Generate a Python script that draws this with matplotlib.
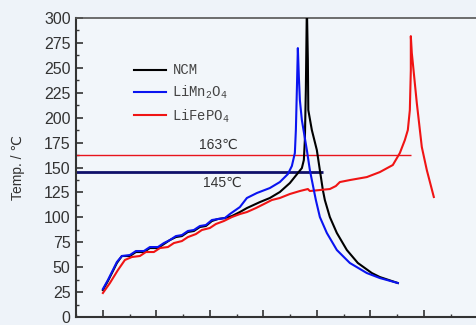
import matplotlib.pyplot as plt
import matplotlib.ticker as ticker

# Thermal runaway curves for three cathode chemistries.
# x is time (arbitrary minutes, major tick every 20), y is temperature in degC.

ncm_x = [0, 1.87, 3.36, 5.23, 7.10, 10.09, 12.34, 15.33, 17.57, 20.56, 22.80, 25.04,
         27.29, 29.53, 31.77, 34.02, 36.26, 38.50, 40.74, 42.99, 45.60, 48.22, 51.21,
         53.83, 58.69, 62.42, 66.16, 69.90, 72.89, 74.39, 75.13, 75.51, 75.88, 76.26,
         76.63, 76.80, 78.12, 79.99, 82.24, 82.98, 84.85, 87.47, 91.21, 95.32, 100.55,
         103.54, 110.27]
ncm_y = [27.1, 36.1, 44.1, 54.2, 61.2, 61.2, 65.2, 65.2, 69.2, 69.2, 73.2, 77.2,
         80.2, 81.2, 85.3, 86.3, 90.3, 91.3, 96.3, 98.3, 99.3, 101.3, 105.3,
         109.3, 115.3, 119.4, 125.4, 134.4, 144.4, 149.4, 157.5, 177.5, 227.7, 313.0,
         257.8, 207.6, 187.6, 167.5, 127.4, 117.4, 100.3, 84.3, 67.2, 54.2, 44.1,
         40.1, 34.1]

lmo_x = [0, 1.87, 3.36, 5.23, 7.10, 10.09, 12.34, 15.33, 17.57, 20.56, 22.80, 25.04,
         27.29, 29.53, 31.77, 34.02, 36.26, 38.50, 40.74, 42.99, 45.60, 47.47, 51.21,
         53.83, 57.57, 62.42, 66.16, 69.15, 70.65, 71.77, 72.15, 72.52, 72.89, 73.27,
         73.64, 74.39, 75.51, 76.26, 77.38, 78.87, 79.62, 81.12, 83.73, 87.47, 92.33,
         98.68, 103.54, 110.27]
lmo_y = [28.1, 37.1, 45.1, 55.2, 61.2, 62.2, 66.2, 66.2, 70.2, 70.2, 74.2, 77.2,
         81.2, 82.2, 86.3, 87.3, 91.3, 92.3, 97.3, 98.3, 99.3, 103.3, 110.3,
         119.4, 124.4, 129.4, 135.4, 143.4, 151.5, 164.5, 187.6, 227.7, 269.8, 240.7,
         217.7, 197.6, 179.5, 167.5, 147.4, 127.4, 117.4, 100.3, 84.3, 67.2, 54.2,
         44.1, 39.1, 34.1]

lfp_x = [0, 2.62, 5.61, 8.22, 10.84, 13.83, 16.07, 19.06, 21.31, 24.30, 26.54, 29.53,
         31.77, 34.76, 37.01, 39.99, 42.24, 45.23, 48.22, 51.21, 53.83, 57.19, 60.18,
         63.17, 66.16, 69.90, 73.64, 76.63, 77.38, 81.12, 84.85, 87.09, 88.59, 92.33,
         98.68, 103.54, 108.40, 111.02, 112.89, 114.01, 114.76, 115.13, 115.13, 115.50,
         115.88, 117.37, 119.24, 121.11, 123.73]
lfp_y = [24.1, 34.1, 47.1, 57.2, 60.2, 61.2, 65.2, 65.2, 69.2, 70.2, 74.2, 76.2,
         80.2, 83.2, 87.3, 89.3, 93.3, 96.3, 100.3, 103.3, 105.3, 109.3, 113.3,
         117.4, 119.4, 123.4, 126.4, 128.4, 126.4, 127.4, 128.4, 131.4, 135.4, 137.4,
         140.4, 145.4, 152.5, 164.5, 177.5, 187.6, 207.6, 247.7, 281.8, 264.8,
         254.8, 214.6, 170.5, 147.4, 120.4]

# reference temperatures and where their lines stop on x
ref_temps = [163, 145]
ref_ends = [115.1, 82.2]

plt.rcParams['mathtext.fontset'] = 'custom'
plt.rcParams['mathtext.rm'] = 'Liberation Mono'
plt.rcParams['mathtext.it'] = 'Liberation Mono'

bg = '#eef3f9'
fig = plt.figure(figsize=(4.76, 3.25), dpi=100, facecolor=bg)
ax = fig.add_axes([0.16, 0.0246, 0.899, 0.92], facecolor='#f2f6fa')

ax.hlines(ref_temps[0], -10, ref_ends[0], color='#e8141c', lw=1.0, zorder=2)
ax.hlines(ref_temps[1], -10, ref_ends[1], color='#10106a', lw=2.0, zorder=2)

ax.plot(ncm_x, ncm_y, color='black', lw=1.5, label='NCM', zorder=3)
ax.plot(lmo_x, lmo_y, color='#0a14f0', lw=1.5, label='LiMn$_2$O$_4$', zorder=4)
ax.plot(lfp_x, lfp_y, color='#f01414', lw=1.5, label='LiFePO$_4$', zorder=3)

ax.text(43, 165.5, '163℃', fontsize=10, color='#333333', ha='center', va='bottom',
        family=['Liberation Sans', 'DejaVu Sans'])
ax.text(44.5, 142, '145℃', fontsize=10, color='#333333', ha='center', va='top',
        family=['Liberation Sans', 'DejaVu Sans'])

ax.set_xlim(-10, 150)
ax.set_ylim(0, 300)
ax.yaxis.set_major_locator(ticker.MultipleLocator(25))
ax.yaxis.set_minor_locator(ticker.MultipleLocator(12.5))
ax.xaxis.set_major_locator(ticker.MultipleLocator(20))
ax.xaxis.set_minor_locator(ticker.MultipleLocator(10))
ax.tick_params(which='both', direction='in', colors='#333333')
ax.tick_params(which='major', length=5, width=1.2, labelsize=11.5, pad=4)
ax.tick_params(which='minor', length=2.5, width=1.0)
ax.tick_params(axis='x', labelbottom=False)
for lab in ax.get_yticklabels():
    lab.set_family('Liberation Sans')

for side in ['left', 'bottom']:
    ax.spines[side].set_color('#333333')
    ax.spines[side].set_linewidth(1.5)
ax.spines['top'].set_color('#555555')
ax.spines['top'].set_linewidth(1.2)
ax.spines['right'].set_visible(False)

ax.set_ylabel('Temp. / ℃', fontsize=10, color='#333333',
              family=['Liberation Sans', 'DejaVu Sans'], labelpad=14)

leg = ax.legend(loc='upper left', bbox_to_anchor=(0.105, 0.89), frameon=False,
                prop={'family': 'Liberation Mono', 'size': 10},
                handlelength=2.3, handletextpad=0.5, labelspacing=0.45)
for t in leg.get_texts():
    t.set_color('#444444')

fig.savefig('out.png', dpi=100, facecolor=bg)
